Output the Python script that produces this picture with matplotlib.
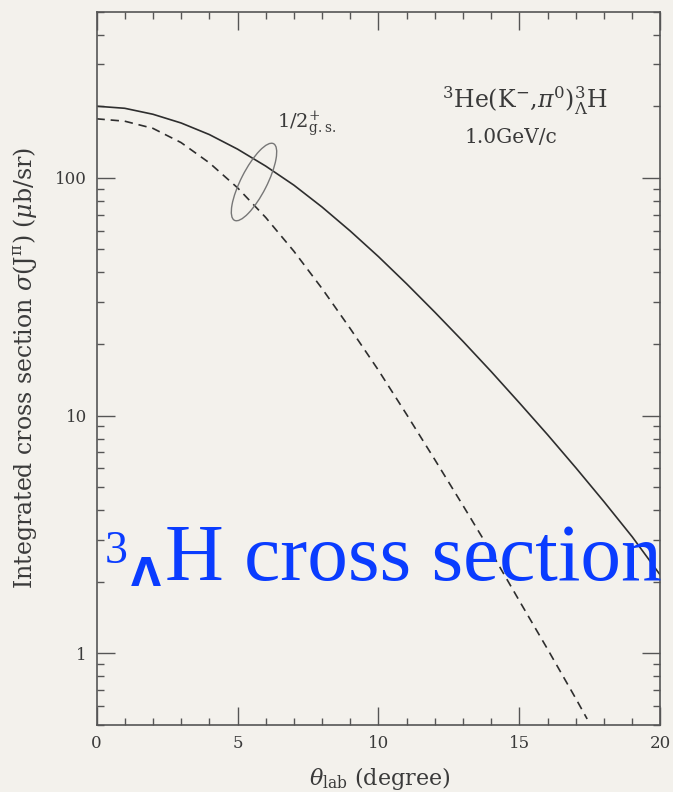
import matplotlib

matplotlib.use("Agg")

import matplotlib.pyplot as plt
import numpy as np
from matplotlib.patches import Ellipse
from matplotlib.ticker import FixedLocator, FixedFormatter, NullFormatter, LogLocator

# angle (deg, lab) and integrated cross sections (mub/sr)
theta_solid = [0, 1, 2, 3, 4, 5, 6, 7, 8, 9, 10, 11, 12, 13, 14, 15, 16, 17, 18, 19, 20]
sigma_solid = [200, 196, 185, 170, 152, 132, 112, 93.1, 75.3, 59.7, 46.6, 35.8, 27.2, 20.5,
               15.3, 11.3, 8.30, 6.03, 4.34, 3.09, 2.13]

theta_dashed = [0, 1, 2, 3, 4, 5, 6, 7, 8, 9, 10, 11, 12, 13, 14, 15, 16, 17, 17.4]
sigma_dashed = [177, 173, 161.4, 140.6, 115.6, 90.8, 68.1, 49.1, 34.2, 23.2, 15.5, 10.1,
                6.52, 4.18, 2.66, 1.66, 1.04, 0.645, 0.53]

x_major = [0, 5, 10, 15, 20]
y_major = [1, 10, 100]
y_major_labels = ["1", "10", "100"]

paper = "#f3f1ec"
ink = "#2e2e2e"
grey_txt = "#3a3a3a"
blue = "#0a3cff"

plt.rcParams["font.family"] = ["DejaVu Serif"]
plt.rcParams["mathtext.fontset"] = "dejavuserif"

fig = plt.figure(figsize=(6.73, 7.92), dpi=100, facecolor=paper)
ax = fig.add_axes([0.1434, 0.0846, 0.838, 0.9008], facecolor=paper)

ax.plot(theta_solid, sigma_solid, color=ink, lw=1.2)
ax.plot(theta_dashed, sigma_dashed, color=ink, lw=1.2, dashes=(5, 3.5))

ax.set_yscale("log")
ax.set_xlim(0, 20)
ax.set_ylim(0.5, 500)

ax.xaxis.set_major_locator(FixedLocator(x_major))
ax.xaxis.set_minor_locator(FixedLocator(np.arange(0, 21, 1)))
ax.yaxis.set_major_locator(FixedLocator(y_major))
ax.yaxis.set_major_formatter(FixedFormatter(y_major_labels))
ax.yaxis.set_minor_locator(LogLocator(base=10, subs=np.arange(2, 10)))
ax.yaxis.set_minor_formatter(NullFormatter())

ax.tick_params(which="both", direction="in", top=True, right=True, color="#555555",
               width=1.0, labelcolor=grey_txt, labelsize=12)
ax.tick_params(which="major", length=13, pad=7)
ax.tick_params(which="minor", length=5)
for sp in ax.spines.values():
    sp.set_color("#555555")
    sp.set_linewidth(1.2)

ax.set_xlabel(r"$\theta_{\rm lab}$ (degree)", fontsize=16, color=grey_txt)
ax.set_ylabel(r"Integrated cross section $\sigma(\rm J^{\pi})$ ($\mu$b/sr)",
              fontsize=17, color=grey_txt)
ax.xaxis.set_label_coords(0.503, -0.056)
ax.xaxis.label.set_va("top")
ax.yaxis.set_label_coords(-0.102, 0.50)

ax.text(0.32, 0.837, r"$1/2^{+}_{\rm g.s.}$", transform=ax.transAxes, fontsize=14,
        color=grey_txt, ha="left", va="baseline")
ax.text(0.612, 0.864, r"$^{3}$He(K$^{-}$,$\pi^{0}$)$^{3}_{\Lambda}$H", transform=ax.transAxes,
        fontsize=17, color=grey_txt, ha="left", va="baseline")
ax.text(0.653, 0.816, "1.0GeV/c", transform=ax.transAxes, fontsize=14.5,
        color=grey_txt, ha="left", va="baseline")

ell = Ellipse((2.54, 6.10), width=0.86, height=0.26, angle=63, fill=False,
              edgecolor="#777777", lw=1.0, transform=fig.dpi_scale_trans)
fig.add_artist(ell)

# slide title overlay
ax.text(0.015, 0.227, "3", transform=ax.transAxes, fontsize=33, color=blue,
        family="Liberation Serif", ha="left", va="baseline")
ax.text(0.061, 0.195, "Λ", transform=ax.transAxes, fontsize=28, color=blue,
        family="DejaVu Sans", weight="bold", ha="left", va="baseline")
ax.text(0.121, 0.2033, "H cross section", transform=ax.transAxes, fontsize=58.5, color=blue,
        family="Liberation Serif", ha="left", va="baseline")

fig.savefig("out.png", dpi=100, facecolor=paper)
plt.close(fig)
